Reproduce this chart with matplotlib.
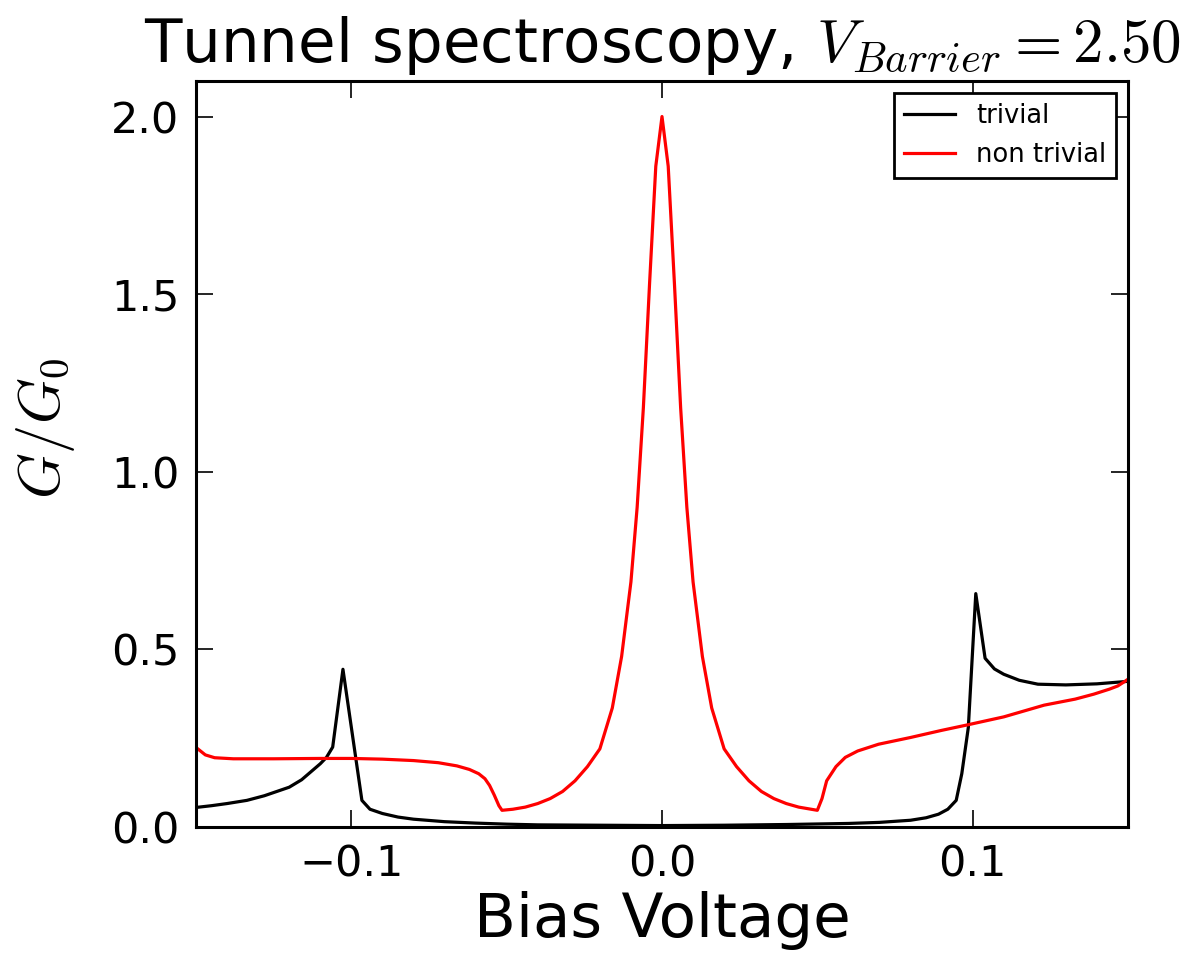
import numpy as np
import matplotlib
matplotlib.use("Agg")
import matplotlib.pyplot as plt

plt.rcParams['mathtext.fontset'] = 'cm'
plt.rcParams['font.family'] = ['DejaVu Sans']

# trivial (black)
trivial_v = [-0.150, -0.145, -0.140, -0.1336, -0.128, -0.124, -0.120, -0.116, -0.1124,
             -0.110, -0.108, -0.106, -0.1027, -0.0966, -0.094, -0.090, -0.085, -0.080,
             -0.070, -0.060, -0.050, -0.040, -0.020, 0.000, 0.020, 0.040, 0.060, 0.070,
             0.080, 0.085, 0.089, 0.092, 0.0947, 0.0965, 0.0986, 0.101, 0.104, 0.107,
             0.110, 0.115, 0.121, 0.130, 0.140, 0.150]
trivial_g = [0.055, 0.060, 0.066, 0.075, 0.088, 0.100, 0.112, 0.133, 0.160,
             0.178, 0.196, 0.225, 0.444, 0.075, 0.050, 0.038, 0.028, 0.022,
             0.015, 0.011, 0.008, 0.006, 0.005, 0.004, 0.005, 0.007, 0.010, 0.013,
             0.019, 0.026, 0.036, 0.050, 0.075, 0.150, 0.280, 0.657, 0.475, 0.445,
             0.430, 0.413, 0.402, 0.400, 0.403, 0.410]

# non trivial (red)
nontrivial_v = [-0.150, -0.147, -0.144, -0.138, -0.125, -0.110, -0.100, -0.090, -0.080,
                -0.072, -0.066, -0.062, -0.059, -0.057, -0.0555, -0.054, -0.0525, -0.0515,
                -0.048, -0.044, -0.040, -0.036, -0.032, -0.028, -0.024, -0.020, -0.016,
                -0.013, -0.010, -0.008, -0.006, -0.004, -0.002, 0.000, 0.002, 0.004,
                0.006, 0.008, 0.010, 0.013, 0.016, 0.020, 0.024, 0.028, 0.032, 0.036,
                0.040, 0.044, 0.048, 0.0500, 0.0515, 0.053, 0.056, 0.059, 0.063, 0.0697,
                0.080, 0.090, 0.0986, 0.110, 0.123, 0.133, 0.139, 0.144, 0.1467, 0.149, 0.150]
nontrivial_g = [0.224, 0.203, 0.195, 0.192, 0.192, 0.193, 0.193, 0.191, 0.187,
                0.181, 0.172, 0.162, 0.150, 0.136, 0.117, 0.090, 0.060, 0.047,
                0.050, 0.056, 0.066, 0.080, 0.100, 0.130, 0.170, 0.220, 0.335,
                0.480, 0.690, 0.900, 1.180, 1.530, 1.860, 2.000, 1.860, 1.530,
                1.180, 0.900, 0.690, 0.480, 0.335, 0.220, 0.170, 0.130, 0.100, 0.080,
                0.066, 0.056, 0.050, 0.047, 0.080, 0.130, 0.170, 0.196, 0.214, 0.233,
                0.252, 0.272, 0.288, 0.310, 0.343, 0.360, 0.374, 0.388, 0.397, 0.410, 0.416]

x_ticks = [-0.1, 0.0, 0.1]
y_ticks = [0.0, 0.5, 1.0, 1.5, 2.0]

fig = plt.figure(figsize=(11.91, 9.69), dpi=100)
ax = fig.add_axes([196/1191, 1-827/969, (1128-196)/1191, (827-81)/969])

ax.plot(trivial_v, trivial_g, color='black', lw=2.3, label='trivial')
ax.plot(nontrivial_v, nontrivial_g, color='red', lw=2.3, label='non trivial')

ax.set_xlim(-0.15, 0.15)
ax.set_ylim(0, 2.1)
ax.set_xticks(x_ticks)
ax.set_yticks(y_ticks)
ax.tick_params(direction='in', length=12, width=1.2, top=True, right=True,
               labelsize=31, pad=12)
for s in ax.spines.values():
    s.set_linewidth(2.2)

ax.set_title('Tunnel spectroscopy, $V_{Barrier}=2.50$', fontsize=44, pad=14)
ax.set_xlabel('Bias Voltage', fontsize=44, labelpad=4)
ax.set_ylabel('$G/G_0$', fontsize=42)
ax.yaxis.set_label_coords(-0.128, 0.535)

leg = ax.legend(loc='upper right', fontsize=18.5, fancybox=False, framealpha=1,
                edgecolor='black', borderaxespad=0.45, handlelength=2.0,
                borderpad=0.4, labelspacing=0.5, handletextpad=0.8)
leg.get_frame().set_linewidth(2)

fig.savefig('out.png', dpi=100)
